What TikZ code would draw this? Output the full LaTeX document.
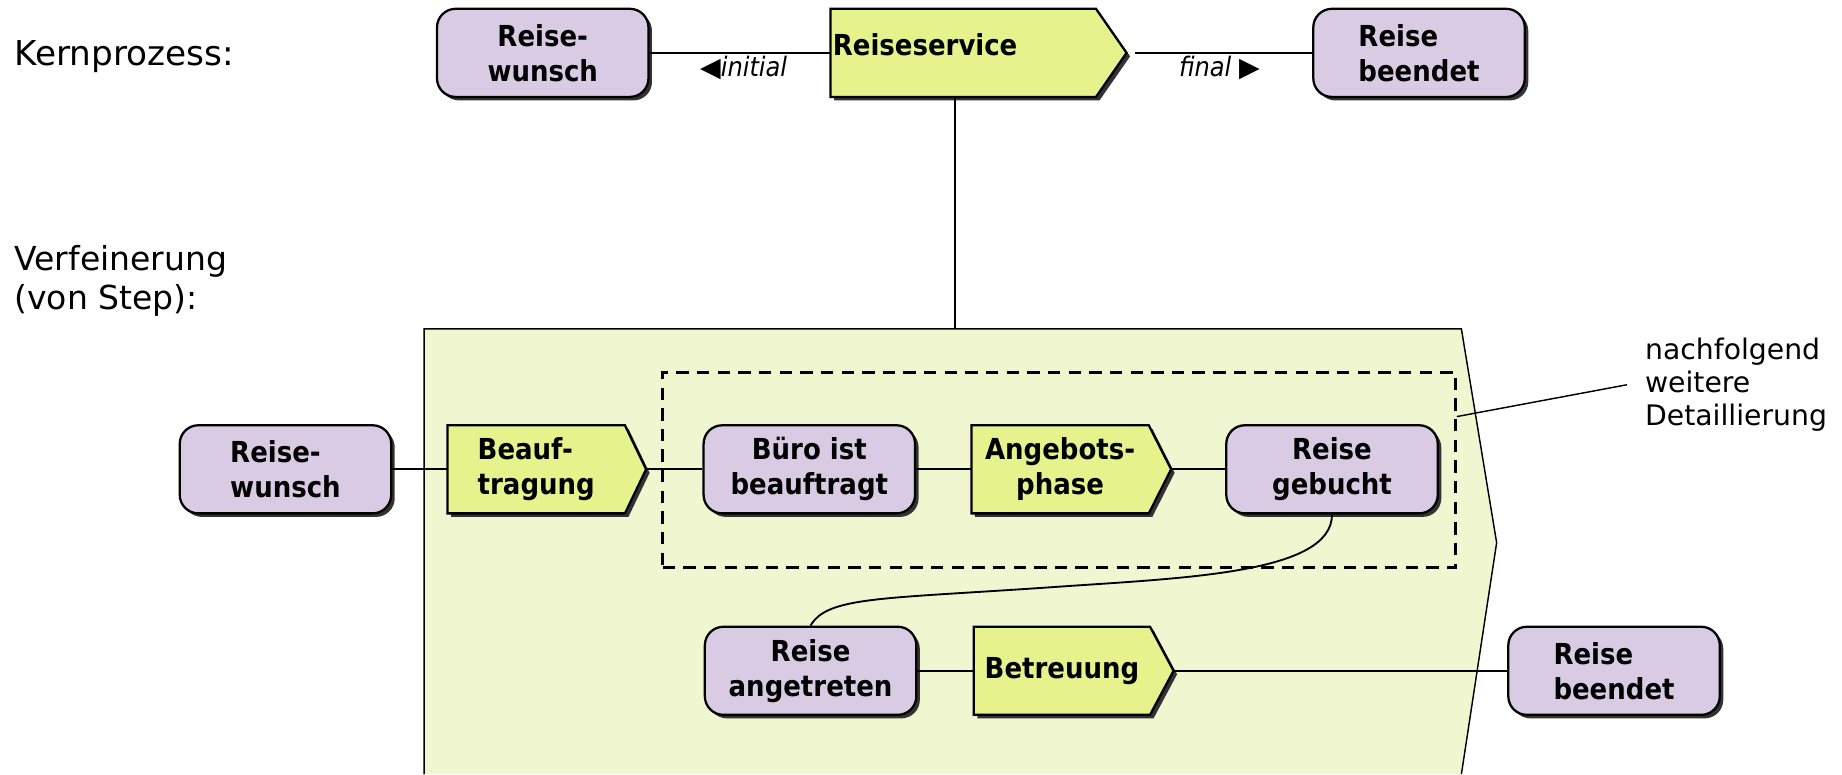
\documentclass[tikz,border=0pt]{standalone}
\usepackage{fontspec}
\setmainfont{DejaVu Sans}
\newfontfamily\condfont{DejaVuSansCondensed}[Extension=.ttf,BoldFont=*-Bold,ItalicFont=*-Oblique]
\usetikzlibrary{positioning,calc,shadows,backgrounds}
\definecolor{EventLilac}{HTML}{D9CBE3}
\definecolor{FuncLime}{HTML}{E6F28C}
\definecolor{StepLime}{HTML}{F0F7D0}
\tikzset{
  EV/.style={rectangle,rounded corners=9pt,
             minimum width=3.6cm,minimum height=1.5cm,
             align=center,draw,line width=1.1pt,fill=EventLilac,
             drop shadow={shadow xshift=0.06cm,shadow yshift=-0.06cm,fill=black!80,opacity=1},
             font=\condfont\bfseries\fontsize{14}{17}\selectfont},
  FN/.style={rectangle,minimum width=3.02cm,minimum height=1.5cm,
             inner sep=0pt,outer sep=0pt,align=center,
             font=\condfont\bfseries\fontsize{14}{17}\selectfont},
  FNS/.style={fill=FuncLime,draw,line width=1.1pt,
              drop shadow={shadow xshift=0.06cm,shadow yshift=-0.06cm,fill=black!80,opacity=1}},
  ln/.style={line width=0.9pt},
  lbl/.style={font=\condfont\itshape\fontsize{13}{15}\selectfont,inner sep=1pt},
  txt/.style={font=\fontsize{16}{19}\selectfont,align=left,inner sep=0pt,anchor=west},
  DASH/.style={draw,dash pattern=on 6pt off 4pt,line width=1.2pt,
               minimum width=13.5cm,minimum height=3.32cm}
}
% function box: pentagon behind the node, tip kept as coordinate <name>tip
\newcommand{\fnbox}[2]{%
  \coordinate (#1tip) at ($(#1.east)+(#2,0)$);
  \begin{scope}[on background layer]
    \filldraw[FNS] (#1.north west) -- (#1.north east) -- (#1tip)
      -- (#1.south east) -- (#1.south west) -- cycle;
  \end{scope}}

\begin{document}
\begin{tikzpicture}
  \useasboundingbox (0,0) rectangle (31.36,-13.18);

  % refined step
  \begin{scope}[on background layer]
    \fill[StepLime] (7.22,-13.18) -- (7.22,-5.6) -- (24.88,-5.6) -- (25.48,-9.24) -- (24.88,-13.18) -- cycle;
    \draw[line width=0.7pt] (7.22,-13.18) -- (7.22,-5.6) -- (24.88,-5.6) -- (25.48,-9.24) -- (24.88,-13.18);
  \end{scope}
  \coordinate (steptop) at (16.26,-5.6);

  \node[txt,font=\fontsize{16.6}{19}\selectfont] (kern) at (0.24,-0.97) {Kernprozess:};
  \node[txt] (verf) at (0.24,-4.78) {Verfeinerung\\(von Step):};

  % core process
  \node[EV] (wunschA) at (9.24,-0.9) {Reise-\\wunsch};
  \node[FN,minimum width=4.52cm,text width=4.44cm,text depth=0.27cm,align=left,right=3.08cm of wunschA] (service) {Reiseservice};
  \fnbox{service}{0.52}
  \node[EV,align=left,right=3.16cm of servicetip] (beendetA) {Reise\\beendet};

  \draw[ln](wunschA)-- node[lbl,below,pos=0.52]{{\rmfamily\upshape ◀}initial} (service);
  \draw[ln,shorten <=0.14cm](servicetip)-- node[lbl,below]{final {\rmfamily\upshape ▶}} (beendetA);
  \draw[ln](service.south -| steptop)--(steptop);

  % refinement, upper row
  \node[EV,align=left] (wunschB) at (4.86,-7.99) {Reise-\\wunsch};
  \node[FN,align=left,right=0.94cm of wunschB] (beauf) {Beauf-\\tragung};
  \fnbox{beauf}{0.36}
  \node[EV,right=0.96cm of beauftip] (buero) {Büro ist\\beauftragt};
  \node[FN,right=0.94cm of buero] (angebot) {Angebots-\\phase};
  \fnbox{angebot}{0.38}
  \node[EV,right=0.92cm of angebottip] (gebucht) {Reise\\gebucht};

  % refinement, lower row
  \node[EV] (angetr) at (13.8,-11.42) {Reise\\angetreten};
  \node[FN,minimum width=3.0cm,right=0.96cm of angetr] (betr) {Betreuung};
  \fnbox{betr}{0.4}
  \node[EV,align=left,right=5.68cm of betrtip] (beendetB) {Reise\\beendet};

  \draw[ln](wunschB)--(beauf);
  \draw[ln](beauftip)--(buero);
  \draw[ln](buero)--(angebot);
  \draw[ln](angebottip)--(gebucht);
  \coordinate (bend) at (18.0,-9.99);
  \draw[ln](gebucht.south) to[out=-90,in=4,out distance=1.0cm,in distance=2.2cm] (bend)
    to[out=184,in=60,out distance=3.0cm,in distance=0.58cm] (angetr.north);
  \draw[ln](angetr)--(betr);
  \draw[ln](betrtip)--(beendetB);

  % part refined further
  \node[DASH] (detail) at (18.03,-8.0) {};
  \node[txt,font=\fontsize{13.7}{16}\selectfont,inner xsep=0.3cm] (note) at (27.7,-6.55) {nachfolgend\\weitere\\Detaillierung};
  \draw[line width=0.7pt]($(detail.north east)!0.23!(detail.south east)$)--(note.west);
\end{tikzpicture}
\end{document}
